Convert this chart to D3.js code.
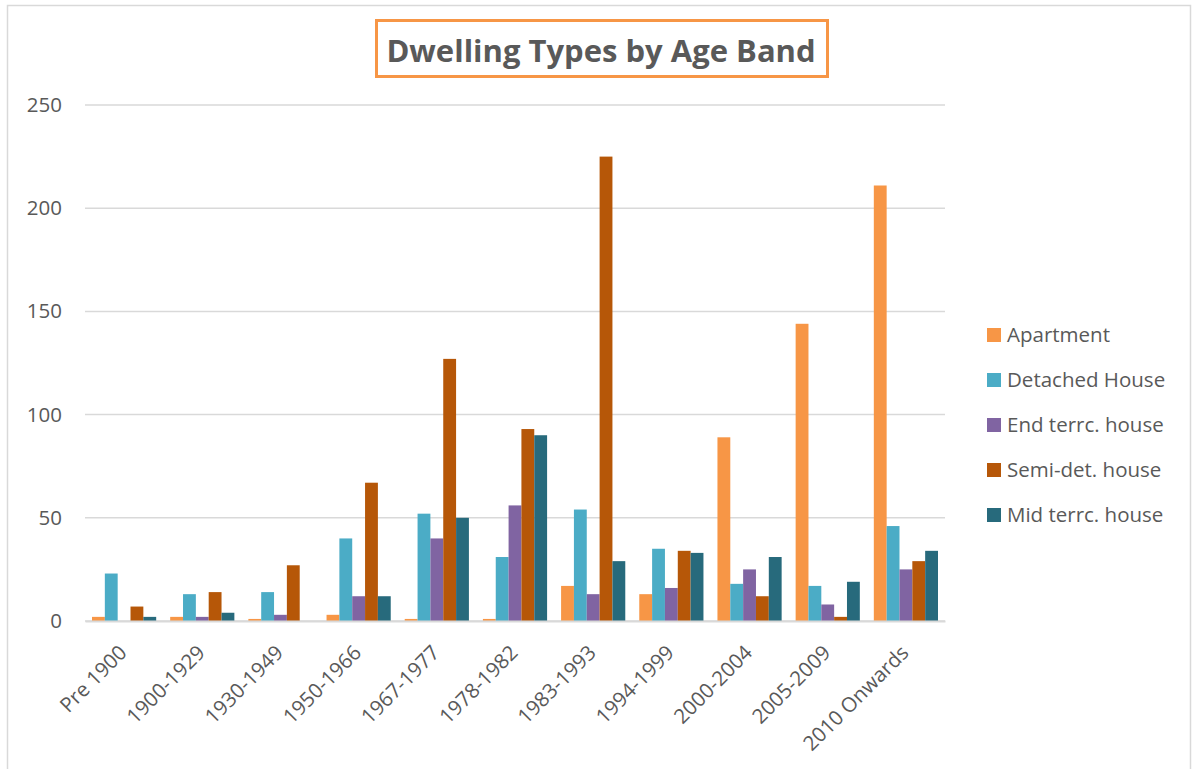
<!DOCTYPE html>
<html>
<head>
<meta charset="utf-8">
<script src="https://cdn.jsdelivr.net/npm/d3@7"></script>
<style>
  html, body { margin: 0; padding: 0; background: #fff; }
  svg { display: block; }
  text { font-family: "Open Sans", "Noto Sans", sans-serif; fill: #595959; }
</style>
</head>
<body>
<svg id="chart" width="1194" height="769"></svg>
<script>
// Age bands (x categories)
const ageBands = ["Pre 1900", "1900-1929", "1930-1949", "1950-1966", "1967-1977",
  "1978-1982", "1983-1993", "1994-1999", "2000-2004", "2005-2009", "2010 Onwards"];

// Dwelling type series
const seriesNames = ["Apartment", "Detached House", "End terrc. house", "Semi-det. house", "Mid terrc. house"];
const seriesColors = ["#F79646", "#4BACC6", "#8064A2", "#B65708", "#276A7C"];

// Counts per age band, one array per dwelling type
const apartment     = [2, 2, 1, 3, 1, 1, 17, 13, 89, 144, 211];
const detachedHouse = [23, 13, 14, 40, 52, 31, 54, 35, 18, 17, 46];
const endTerrace    = [0, 2, 3, 12, 40, 56, 13, 16, 25, 8, 25];
const semiDetached  = [7, 14, 27, 67, 127, 93, 225, 34, 12, 2, 29];
const midTerrace    = [2, 4, 0, 12, 50, 90, 29, 33, 31, 19, 34];

const yTicks = [0, 50, 100, 150, 200, 250];

const seriesValues = [apartment, detachedHouse, endTerrace, semiDetached, midTerrace];

const FONT = "'Open Sans', 'Noto Sans', sans-serif";
const LABEL_SIZE = "20.5px";

const svg = d3.select("#chart");

// Chart frame
svg.append("rect")
  .attr("x", 7.5).attr("y", 5.5)
  .attr("width", 1183).attr("height", 780)
  .attr("fill", "#fff")
  .attr("stroke", "#d9d9d9").attr("stroke-width", 1.5);

const plot = { left: 85, right: 945, top: 105, bottom: 621 };

const x0 = d3.scaleBand()
  .domain(ageBands)
  .range([plot.left, plot.right]);

const groupPad = 7;
const x1 = d3.scaleBand()
  .domain(seriesNames)
  .range([groupPad, x0.bandwidth() - groupPad]);

const y = d3.scaleLinear()
  .domain([0, 250])
  .range([plot.bottom, plot.top]);

// Horizontal gridlines
svg.append("g")
  .selectAll("line")
  .data(yTicks)
  .join("line")
  .attr("x1", plot.left).attr("x2", plot.right)
  .attr("y1", d => y(d)).attr("y2", d => y(d))
  .attr("stroke", "#d9d9d9").attr("stroke-width", 1.5);

// Y axis labels
const yAxis = d3.axisLeft(y).tickValues(yTicks).tickSize(0).tickPadding(0);
svg.append("g")
  .attr("transform", `translate(${plot.left - 23},0)`)
  .call(yAxis)
  .call(g => g.select(".domain").remove())
  .call(g => g.selectAll("text")
    .style("font-family", FONT)
    .style("font-size", LABEL_SIZE)
    .attr("fill", "#595959"));

// Bars
const rows = ageBands.map((band, i) => ({
  band,
  values: seriesNames.map((name, s) => ({ name, color: seriesColors[s], value: seriesValues[s][i] }))
}));

svg.append("g")
  .selectAll("g")
  .data(rows)
  .join("g")
  .attr("transform", d => `translate(${x0(d.band)},0)`)
  .selectAll("rect")
  .data(d => d.values)
  .join("rect")
  .attr("x", d => x1(d.name))
  .attr("width", x1.bandwidth())
  .attr("y", d => y(d.value))
  .attr("height", d => y(0) - y(d.value))
  .attr("fill", d => d.color);

// X axis baseline and rotated category labels
const xAxis = d3.axisBottom(x0).tickSize(0).tickPadding(0);
svg.append("g")
  .attr("transform", `translate(0,${plot.bottom})`)
  .call(xAxis)
  .call(g => g.select(".domain").attr("stroke", "#d9d9d9").attr("stroke-width", 2))
  .call(g => g.selectAll("text")
    .style("font-family", FONT)
    .style("font-size", LABEL_SIZE)
    .attr("fill", "#595959")
    .attr("text-anchor", "end")
    .attr("dy", "0")
    .attr("transform", "translate(4,33) rotate(-45)"));

// Title with outlined box
const titleG = svg.append("g");
titleG.append("rect")
  .attr("x", 376.5).attr("y", 20.5)
  .attr("width", 451).attr("height", 56)
  .attr("fill", "#fff")
  .attr("stroke", "#F79646").attr("stroke-width", 3);
titleG.append("text")
  .attr("x", 601).attr("y", 62)
  .attr("text-anchor", "middle")
  .style("font-size", "31px")
  .style("font-weight", "bold")
  .text("Dwelling Types by Age Band");

// Legend
const legend = svg.append("g")
  .selectAll("g")
  .data(seriesNames)
  .join("g")
  .attr("transform", (d, i) => `translate(987,${335 + i * 45})`);
legend.append("rect")
  .attr("x", 0).attr("y", -7)
  .attr("width", 14).attr("height", 14)
  .attr("fill", (d, i) => seriesColors[i]);
legend.append("text")
  .attr("x", 20).attr("y", 7)
  .style("font-size", LABEL_SIZE)
  .text(d => d);
</script>
</body>
</html>
